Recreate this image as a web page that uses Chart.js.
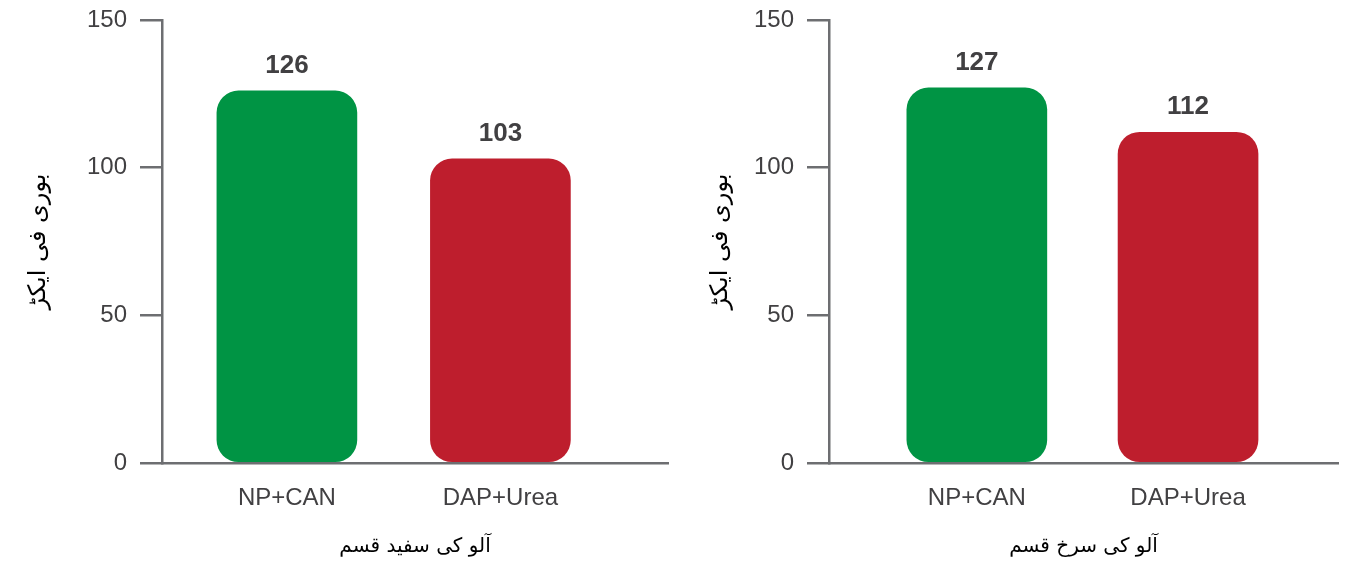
<!DOCTYPE html>
<html>
<head>
<meta charset="utf-8">
<script src="https://cdn.jsdelivr.net/npm/chart.js@4.4.1/dist/chart.umd.min.js"></script>
<style>
  body { margin: 0; background: #fff; }
  .wrap { display: flex; width: 1368px; height: 570px; }
  .box { width: 684px; height: 570px; position: relative; }
</style>
</head>
<body>
<div class="wrap">
  <div class="box"><canvas id="chartWhite" width="684" height="570"></canvas></div>
  <div class="box"><canvas id="chartRed" width="684" height="570"></canvas></div>
</div>
<script>
const categories = ['NP+CAN', 'DAP+Urea']
const whiteValues = [126, 103]
const redValues = [127, 112]
const yTicks = [0, 50, 100, 150]
const yTitle = 'بوری فی ایکڑ'
const whiteTitle = 'آلو کی سفید قسم'
const redTitle = 'آلو کی سرخ قسم'

const barColors = ['#009444', '#be1e2d']
const axisColor = '#6d6e71'
const textColor = '#414042'

// numbers over the bars
const valueLabels = {
  id: 'valueLabels',
  afterDatasetsDraw(chart) {
    const ctx = chart.ctx
    const meta = chart.getDatasetMeta(0)
    ctx.save()
    ctx.font = 'bold 26px "Liberation Sans", Arial, sans-serif'
    ctx.fillStyle = textColor
    ctx.textAlign = 'center'
    ctx.textBaseline = 'middle'
    meta.data.forEach((bar, i) => {
      ctx.fillText(chart.data.datasets[0].data[i].y, bar.x, bar.y - 25)
    })
    ctx.restore()
  }
}

function makeChart(id, values, title, opts) {
  const points = values.map((v, i) => ({ x: i + 1, y: v }))
  return new Chart(document.getElementById(id), {
    type: 'bar',
    data: {
      datasets: [{
        data: points,
        backgroundColor: barColors,
        borderRadius: 22,
        borderSkipped: false,
        barThickness: 140
      }]
    },
    options: {
      responsive: false,
      animation: false,
      layout: { padding: { left: opts.left, right: opts.right, top: 20, bottom: 0 } },
      plugins: { legend: { display: false }, tooltip: { enabled: false } },
      scales: {
        x: {
          type: 'linear',
          offset: false,
          min: opts.min,
          max: opts.max,
          afterBuildTicks: (axis) => { axis.ticks = categories.map((c, i) => ({ value: i + 1 })) },
          afterFit: (axis) => { axis.height = 107 },
          grid: { display: false },
          border: { color: axisColor, width: 2.5 },
          ticks: {
            color: textColor,
            padding: 13,
            font: { family: '"Liberation Sans", Arial, sans-serif', size: 24 },
            callback: (v) => categories[v - 1]
          },
          title: {
            display: true,
            text: title,
            color: '#000',
            padding: { top: 4, bottom: 11 },
            font: { family: '"DejaVu Sans", sans-serif', size: 20 }
          }
        },
        y: {
          min: 0,
          max: 150,
          afterBuildTicks: (axis) => { axis.ticks = yTicks.map(v => ({ value: v })) },
          afterFit: (axis) => {
            axis.width = opts.axisWidth
            axis.paddingTop = 0
            axis.paddingBottom = 0
          },
          grid: { drawOnChartArea: false, color: axisColor, lineWidth: 2.5, tickLength: 22 },
          border: { color: axisColor, width: 2.5 },
          ticks: {
            color: textColor,
            padding: 13,
            font: { family: '"Liberation Sans", Arial, sans-serif', size: 24 }
          },
          title: {
            display: true,
            text: yTitle,
            color: '#000',
            font: { family: '"DejaVu Sans", sans-serif', size: 24 }
          }
        }
      }
    },
    plugins: [valueLabels]
  })
}

makeChart('chartWhite', whiteValues, whiteTitle, { min: 0.415, max: 2.785, left: 20, axisWidth: 142, right: 16 })
makeChart('chartRed', redValues, redTitle, { min: 0.30, max: 2.71, left: 18, axisWidth: 127, right: 30 })
</script>
</body>
</html>
